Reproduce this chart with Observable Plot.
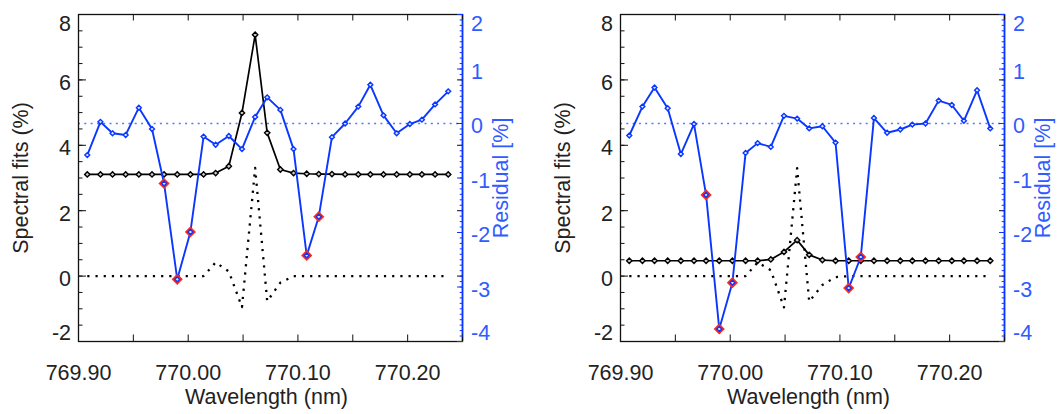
<!DOCTYPE html>
<html><head><meta charset="utf-8">
<script src="https://cdn.jsdelivr.net/npm/d3@7"></script>
<script src="https://cdn.jsdelivr.net/npm/@observablehq/plot@0.6"></script>
<style>
html,body{margin:0;padding:0;background:#fff;}
#wrap{display:flex;width:1062px;height:414px;overflow:hidden;}
#wrap svg{display:block;}
</style></head><body><div id="wrap"></div>
<script>
// wavelength grid (nm)
const wavelength = [769.908, 769.920, 769.931, 769.943, 769.955, 769.967, 769.978, 769.990, 770.002, 770.014,
  770.025, 770.037, 770.049, 770.061, 770.072, 770.084, 770.096, 770.108, 770.119, 770.131,
  770.143, 770.155, 770.166, 770.178, 770.190, 770.202, 770.213, 770.225, 770.237];

// left panel
const fitA = [3.11, 3.11, 3.11, 3.11, 3.11, 3.11, 3.11, 3.11, 3.11, 3.11,
  3.15, 3.36, 4.99, 7.38, 4.38, 3.26, 3.15, 3.13, 3.12, 3.12,
  3.11, 3.11, 3.11, 3.11, 3.11, 3.11, 3.11, 3.11, 3.11];
const modelA = [0, 0, 0, 0, 0, 0, 0, 0, 0, 0,
  0.42, 0.14, -0.95, 3.31, -0.77, -0.20, 0, 0, 0, 0,
  0, 0, 0, 0, 0, 0, 0, 0, 0];
const residA = [-0.58, 0.03, -0.18, -0.21, 0.29, -0.10, -1.10, -2.86, -1.99, -0.24,
  -0.39, -0.23, -0.47, 0.12, 0.48, 0.25, -0.47, -2.42, -1.71, -0.25,
  0.00, 0.31, 0.71, 0.15, -0.18, -0.01, 0.07, 0.35, 0.59];

// right panel
const fitB = [0.47, 0.47, 0.47, 0.47, 0.47, 0.47, 0.47, 0.47, 0.47, 0.47,
  0.47, 0.51, 0.74, 1.10, 0.65, 0.49, 0.47, 0.47, 0.47, 0.47,
  0.47, 0.47, 0.47, 0.47, 0.47, 0.47, 0.47, 0.47, 0.47];
const modelB = [0, 0, 0, 0, 0, 0, 0, 0, 0, 0,
  0.42, 0.18, -0.96, 3.30, -0.78, -0.27, -0.03, 0, 0, 0,
  0, 0, 0, 0, 0, 0, 0, 0, 0];
const residB = [-0.22, 0.31, 0.66, 0.28, -0.56, -0.01, -1.31, -3.77, -2.92, -0.54,
  -0.36, -0.43, 0.14, 0.09, -0.09, -0.05, -0.35, -3.02, -2.45, 0.10,
  -0.17, -0.11, -0.02, 0.00, 0.42, 0.34, 0.05, 0.61, -0.09];

// flagged (red) sample indices
const flagged = [6, 7, 8, 17, 18];

// axes
const xDomain = [769.90, 770.25];
const yDomain = [-2, 8];
const resDomain = [-4, 2];
const xTickLabels = [769.90, 770.00, 770.10, 770.20];
const yTickLabels = [-2, 0, 2, 4, 6, 8];
const resTickLabels = [-4, -3, -2, -1, 0, 1, 2];

const BLUE = "#0a37ff";
const BLUE_TEXT = "#2f5cff";
const RED = "#ff2a1a";
const INK = "#222";
const FS = 21.5;

const toY = d3.scaleLinear().domain(resDomain).range(yDomain);
const xTicks = d3.range(0, 8).map(k => +(xDomain[0] + 0.05 * k).toFixed(2));
const yMinor = d3.range(yDomain[0] * 2, yDomain[1] * 2 + 1).map(k => k / 2);
const resMinor = d3.range(resDomain[0] * 10, resDomain[1] * 10 + 1).map(k => toY(k / 10));
const resMajor = resTickLabels.map(toY);

// tick labels split into inner / top / bottom (top & bottom are nudged inside the frame)
const yInner = yTickLabels.filter(v => v !== yDomain[0] && v !== yDomain[1]);
const resInner = resMajor.filter(v => v !== yDomain[0] && v !== yDomain[1]);
const resFmt = d => String(Math.round(toY.invert(d)));

function panel(fit, model, resid, mLeft, mRight) {
  const rows = wavelength.map((w, i) => ({w, fit: fit[i], model: model[i], res: toY(resid[i]), flag: flagged.includes(i)}));
  const leftLab = (ticks, dy) => Plot.axisY({anchor: "left", ticks, tickSize: 0, tickPadding: 7.5, dy, tickFormat: d => String(d), fill: INK, label: null});
  const rightLab = (ticks, dy) => Plot.axisY({anchor: "right", ticks, tickSize: 0, tickPadding: 8.5, dy, tickFormat: resFmt, fill: BLUE_TEXT, label: null});
  return Plot.plot({
    width: 531, height: 414,
    marginLeft: mLeft, marginRight: mRight, marginTop: 14, marginBottom: 73,
    x: {domain: xDomain},
    y: {domain: yDomain},
    style: {fontFamily: "'Liberation Sans', Arial, Helvetica, sans-serif", fontSize: FS + "px", background: "white", color: INK},
    marks: [
      Plot.line(rows, {x: "w", y: "model", stroke: "#000", strokeWidth: 2.3, strokeDasharray: "2.2,6", strokeLinecap: "butt"}),
      Plot.line(rows, {x: "w", y: "fit", stroke: "#000", strokeWidth: 1.7}),
      Plot.dot(rows, {x: "w", y: "fit", symbol: "diamond2", r: 2.4, stroke: "#000", strokeWidth: 1.4, fill: "#ccc"}),
      Plot.ruleY([toY(0)], {stroke: "#4d7cff", strokeWidth: 1.4, strokeDasharray: "2,4.3"}),
      Plot.line(rows, {x: "w", y: "res", stroke: BLUE, strokeWidth: 1.9}),
      Plot.dot(rows.filter(d => d.flag), {x: "w", y: "res", symbol: "diamond2", r: 3.6, stroke: RED, strokeWidth: 2.3, fill: BLUE}),
      Plot.dot(rows, {x: "w", y: "res", symbol: "diamond2", r: 2.2, stroke: BLUE, strokeWidth: 1.4, fill: "#dde6ff"}),
      // frame
      Plot.frame({stroke: "#111", strokeWidth: 1.3}),
      Plot.ruleX([xDomain[1]], {stroke: BLUE, strokeWidth: 1.6}),
      // x ticks (inward) bottom and top
      Plot.axisX({anchor: "bottom", ticks: xTicks, tickSize: 6.5, dy: -6.5, fill: "none", stroke: "#111", label: null}),
      Plot.axisX({anchor: "top", ticks: xTicks, tickSize: 5.5, dy: 5.5, fill: "none", stroke: "#111", label: null}),
      Plot.axisX({anchor: "bottom", ticks: xTickLabels, tickSize: 0, tickPadding: 23, tickFormat: d => d.toFixed(2), fill: INK, label: null}),
      // left y ticks (inward)
      Plot.axisY({anchor: "left", ticks: yMinor, tickSize: 4.5, dx: 4.5, fill: "none", stroke: "#111", label: null}),
      Plot.axisY({anchor: "left", ticks: yTickLabels, tickSize: 8, dx: 8, fill: "none", stroke: "#111", label: null}),
      leftLab(yInner, 3),
      leftLab([yDomain[1]], 10),
      leftLab([yDomain[0]], -8),
      // mirrored black major ticks on the right
      Plot.axisY({anchor: "right", ticks: yTickLabels, tickSize: 6, dx: -6, fill: "none", stroke: "#111", label: null}),
      // residual axis (right, blue)
      Plot.axisY({anchor: "right", ticks: resMinor, tickSize: 3.3, dx: -3.3, fill: "none", stroke: BLUE, label: null}),
      Plot.axisY({anchor: "right", ticks: resMajor, tickSize: 6, dx: -6, fill: "none", stroke: BLUE, label: null}),
      rightLab(resInner, 3),
      rightLab([yDomain[1]], 10),
      rightLab([yDomain[0]], -8),
      // titles
      Plot.text(["Spectral fits (%)"], {text: d => d, frameAnchor: "left", textAnchor: "middle", dx: -57, rotate: -90, fill: INK}),
      Plot.text(["Residual [%]"], {text: d => d, frameAnchor: "right", textAnchor: "middle", dx: 39, rotate: -90, fill: BLUE_TEXT}),
      Plot.text(["Wavelength (nm)"], {text: d => d, frameAnchor: "bottom", textAnchor: "middle", dx: -4, dy: 62.5, fill: INK})
    ]
  });
}

const wrap = document.getElementById("wrap");
wrap.appendChild(panel(fitA, modelA, residA, 78, 69));
wrap.appendChild(panel(fitB, modelB, residB, 89, 58));
</script>
</body></html>
